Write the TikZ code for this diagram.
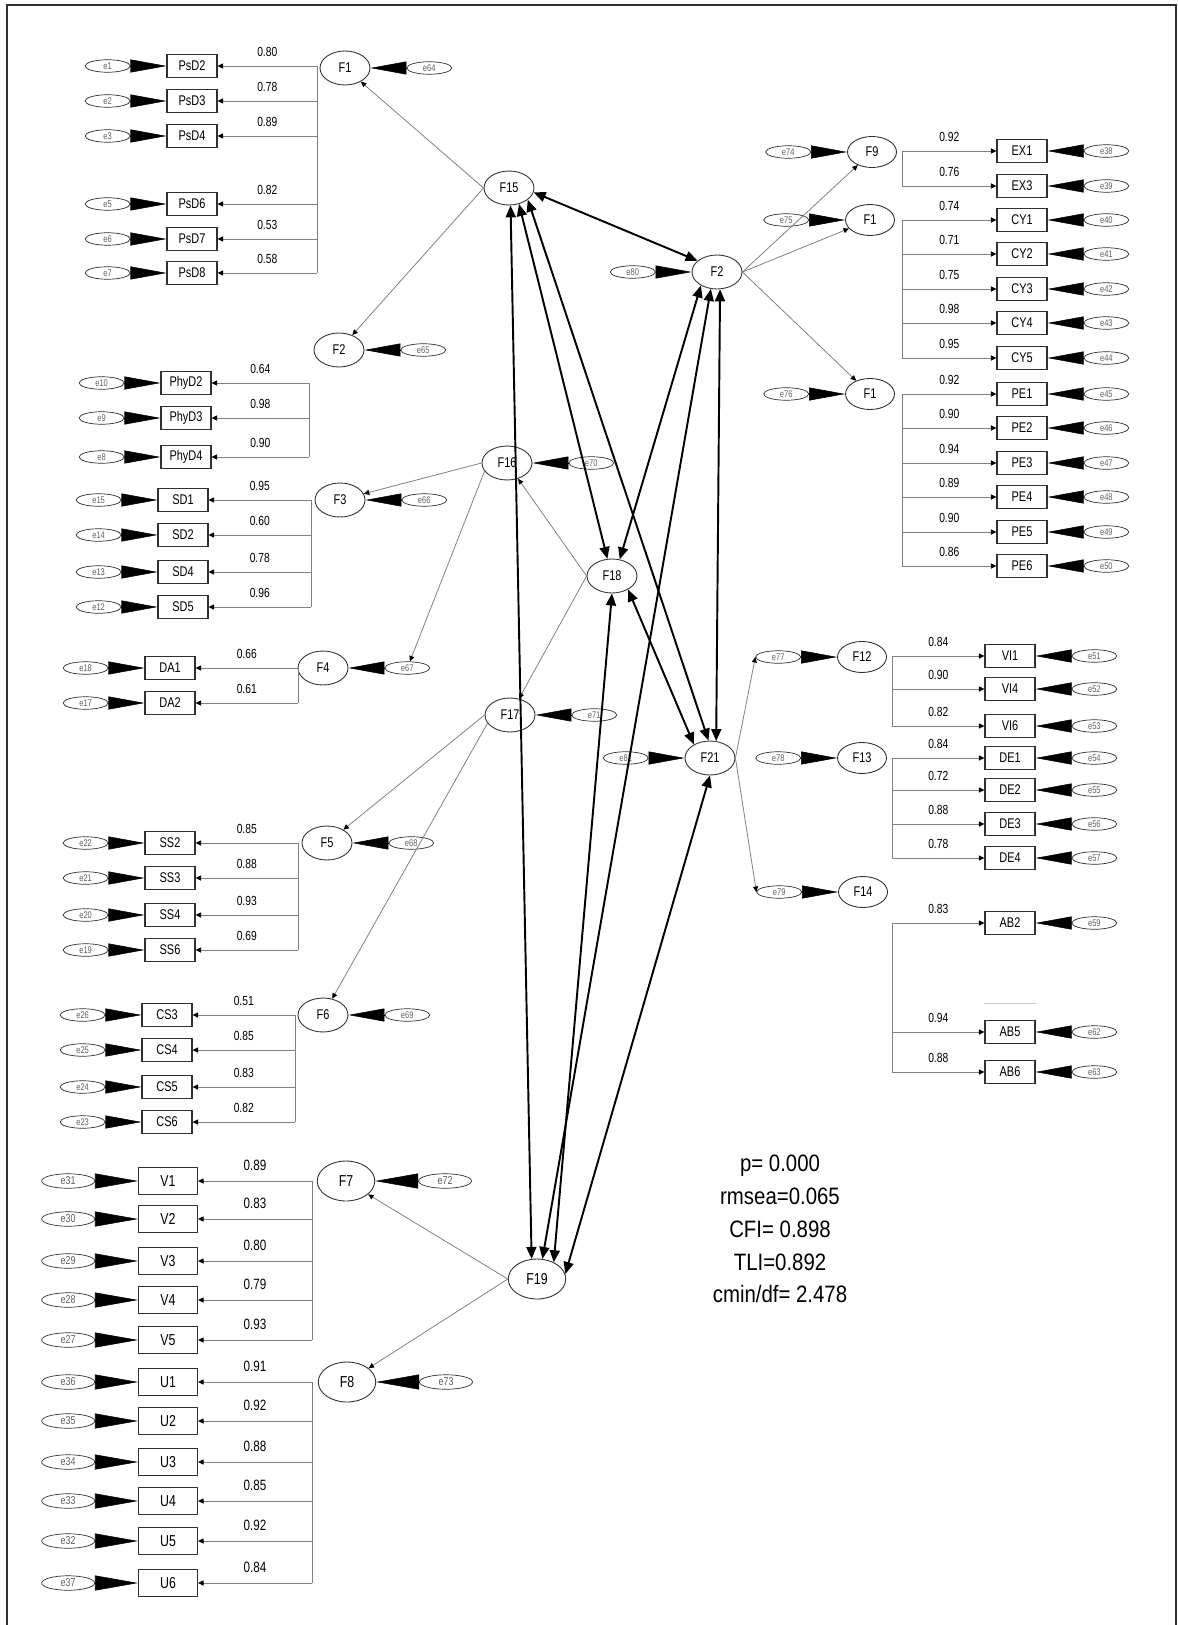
\documentclass[tikz,border=0pt]{standalone}
\usepackage{fontspec}
\setmainfont{Liberation Sans}[FakeStretch=0.78]
\newfontfamily\statfont{Liberation Sans}[FakeStretch=0.86]
\usetikzlibrary{arrows.meta,positioning,shapes.geometric}
\definecolor{linegray}{HTML}{808080}
\definecolor{boxline}{HTML}{303030}
\definecolor{errtext}{HTML}{606060}

\begin{document}
\begin{tikzpicture}[x=0.02cm, y=-0.02cm,
  fac/.style={ellipse, draw=boxline, line width=0.5pt, minimum width=1cm, minimum height=0.68cm, inner sep=0pt, font=\fontsize{8}{9}\selectfont},
  flatfac/.style={fac, minimum width=0.98cm, minimum height=0.62cm},
  bigfac/.style={fac, minimum width=1.15cm, minimum height=0.8cm, font=\fontsize{9}{10}\selectfont},
  obs/.style={rectangle, draw=boxline, line width=0.6pt, minimum width=1cm, minimum height=0.46cm, inner sep=0pt, font=\fontsize{8}{9}\selectfont},
  bigobs/.style={obs, minimum width=1.18cm, minimum height=0.54cm, font=\fontsize{9}{10}\selectfont},
  err/.style={ellipse, draw=boxline, line width=0.4pt, minimum width=0.9cm, minimum height=0.25cm, inner sep=0pt, text=errtext, font=\fontsize{5.5}{6}\selectfont},
  bigerr/.style={err, minimum width=1.06cm, minimum height=0.29cm, font=\fontsize{6.5}{7}\selectfont},
  wedge/.style={draw=black, line width=0.3pt, -{Triangle[length=0.72cm, width=0.26cm]}},
  bigwedge/.style={draw=black, line width=0.3pt, -{Triangle[length=0.86cm, width=0.3cm]}},
  bus/.style={draw=linegray, line width=0.5pt},
  load/.style={draw=linegray, line width=0.5pt, -{Triangle[length=1.1mm, width=1mm, color=black]}},
  reg/.style={draw=linegray, line width=0.45pt, -{Triangle[length=1.1mm, width=1mm, color=black]}},
  cov/.style={draw=black, line width=1.1pt, {Triangle[length=2.4mm, width=2mm]}-{Triangle[length=2.4mm, width=2mm]}},
  val/.style={above=4pt, inner sep=1pt, font=\fontsize{7.5}{8}\selectfont},
  bigval/.style={above=4.5pt, inner sep=1pt, font=\fontsize{8.5}{9}\selectfont}]
  \useasboundingbox (0,0) rectangle (1177,1625);
  \draw[boxline, line width=0.8pt] (7,1625) -- (7,5) -- (1176,5) -- (1176,1625);

  % higher-order factors
  \node[fac] (F15) at (509,188) {F15};
  \node[fac] (F16) at (507,463) {F16};
  \node[fac] (F17) at (510,715) {F17};
  \node[fac] (F18) at (612,576) {F18};
  \node[bigfac] (F19) at (537,1279) {F19};
  \node[fac] (F2) at (717,272) {F2};
  \node[fac] (F21) at (710,758) {F21};

  % first-order factors, left side
  \node[fac] (F1) at (345,68) {F1};
  \node[fac] (F2L) at (339,350) {F2};
  \node[fac] (F3) at (340,500) {F3};
  \node[fac] (F4) at (323,668) {F4};
  \node[fac] (F5) at (327,843) {F5};
  \node[fac] (F6) at (323,1015) {F6};
  \node[bigfac] (F7) at (346,1181) {F7};
  \node[bigfac] (F8) at (347,1382) {F8};

  % first-order factors, right side
  \node[flatfac] (F9) at (872,152) {F9};
  \node[flatfac] (F1m) at (870,220) {F1};
  \node[flatfac] (F1p) at (870,394) {F1};
  \node[flatfac] (F12) at (862,657) {F12};
  \node[flatfac] (F13) at (862,758) {F13};
  \node[flatfac] (F14) at (863,892) {F14};

  % disturbances
  \foreach \fc/\er in {F1/e64, F2L/e65, F3/e66, F4/e67, F5/e68, F6/e69, F16/e70, F17/e71}{
    \node[err, right=0.72cm of \fc] (\er) {\er};
    \draw[wedge] (\er) -- (\fc);
  }
  \foreach \fc/\er in {F7/e72, F8/e73}{
    \node[bigerr, right=0.86cm of \fc] (\er) {\er};
    \draw[bigwedge] (\er) -- (\fc);
  }
  \foreach \fc/\er in {F9/e74, F1m/e75, F1p/e76, F2/e80, F21/e81, F12/e77, F13/e78, F14/e79}{
    \node[err, left=0.72cm of \fc] (\er) {\er};
    \draw[wedge] (\er) -- (\fc);
  }

  % bus lines
  \coordinate (bA) at (317,0);
  \coordinate (bB) at (309,0);
  \coordinate (bC) at (311,0);
  \coordinate (bD) at (298,0);
  \coordinate (bE) at (295,0);
  \coordinate (bF) at (312,0);
  \coordinate (bR) at (902,0);
  \coordinate (bS) at (892,0);

  % left indicators
  \foreach \nm/\er/\xx/\yy/\ld/\bb in {PsD2/e1/192/66/0.80/bA, PsD3/e2/192/101/0.78/bA, PsD4/e3/192/136/0.89/bA,
      PsD6/e5/192/204/0.82/bA, PsD7/e6/192/239/0.53/bA, PsD8/e7/192/273/0.58/bA,
      PhyD2/e10/186/383/0.64/bB, PhyD3/e9/186/418/0.98/bB, PhyD4/e8/186/457/0.90/bB,
      SD1/e15/183/500/0.95/bC, SD2/e14/183/535/0.60/bC, SD4/e13/183/572/0.78/bC, SD5/e12/183/607/0.96/bC,
      DA1/e18/170/668/0.66/bD, DA2/e17/170/703/0.61/bD,
      SS2/e22/170/843/0.85/bD, SS3/e21/170/878/0.88/bD, SS4/e20/170/915/0.93/bD, SS6/e19/170/950/0.69/bD,
      CS3/e26/167/1015/0.51/bE, CS4/e25/167/1050/0.85/bE, CS5/e24/167/1087/0.83/bE, CS6/e23/167/1122/0.82/bE}{
    \node[obs] (\nm) at (\xx,\yy) {\nm};
    \node[err, left=0.72cm of \nm] (\er) {\er};
    \draw[wedge] (\er) -- (\nm);
    \draw[load] (\nm.east -| \bb) -- node[val] {\ld} (\nm.east);
  }
  \foreach \nm/\er/\yy/\ld in {V1/e31/1181/0.89, V2/e30/1219/0.83, V3/e29/1261/0.80, V4/e28/1300/0.79, V5/e27/1340/0.93,
      U1/e36/1382/0.91, U2/e35/1421/0.92, U3/e34/1462/0.88, U4/e33/1501/0.85, U5/e32/1541/0.92, U6/e37/1583/0.84}{
    \node[bigobs] (\nm) at (168,\yy) {\nm};
    \node[bigerr, left=0.86cm of \nm] (\er) {\er};
    \draw[bigwedge] (\er) -- (\nm);
    \draw[load] (\nm.east -| bF) -- node[bigval] {\ld} (\nm.east);
  }
  \draw[bus] (PsD2.east -| bA) -- (PsD8.east -| bA);
  \draw[bus] (PhyD2.east -| bB) -- (PhyD4.east -| bB);
  \draw[bus] (SD1.east -| bC) -- (SD5.east -| bC);
  \draw[bus] (DA1.east -| bD) -- (DA2.east -| bD);
  \draw[bus] (SS2.east -| bD) -- (SS6.east -| bD);
  \draw[bus] (CS3.east -| bE) -- (CS6.east -| bE);
  \draw[bus] (V1.east -| bF) -- (V5.east -| bF);
  \draw[bus] (U1.east -| bF) -- (U6.east -| bF);

  % right indicators
  \foreach \nm/\er/\xx/\yy/\ld/\bb in {EX1/e38/1022/151/0.92/bR, EX3/e39/1022/186/0.76/bR,
      CY1/e40/1022/220/0.74/bR, CY2/e41/1022/254/0.71/bR, CY3/e42/1022/289/0.75/bR, CY4/e43/1022/323/0.98/bR, CY5/e44/1022/358/0.95/bR,
      PE1/e45/1022/394/0.92/bR, PE2/e46/1022/428/0.90/bR, PE3/e47/1022/463/0.94/bR, PE4/e48/1022/497/0.89/bR, PE5/e49/1022/532/0.90/bR, PE6/e50/1022/566/0.86/bR,
      VI1/e51/1010/656/0.84/bS, VI4/e52/1010/689/0.90/bS, VI6/e53/1010/726/0.82/bS,
      DE1/e54/1010/758/0.84/bS, DE2/e55/1010/790/0.72/bS, DE3/e56/1010/824/0.88/bS, DE4/e57/1010/858/0.78/bS,
      AB2/e59/1010/923/0.83/bS, AB5/e62/1010/1032/0.94/bS, AB6/e63/1010/1072/0.88/bS}{
    \node[obs] (\nm) at (\xx,\yy) {\nm};
    \node[err, right=0.72cm of \nm] (\er) {\er};
    \draw[wedge] (\er) -- (\nm);
    \draw[load] (\nm.west -| \bb) -- node[val] {\ld} (\nm.west);
  }
  \draw[bus] (EX1.west -| bR) -- (EX3.west -| bR);
  \draw[bus] (CY1.west -| bR) -- (CY5.west -| bR);
  \draw[bus] (PE1.west -| bR) -- (PE6.west -| bR);
  \draw[bus] (VI1.west -| bS) -- (VI6.west -| bS);
  \draw[bus] (DE1.west -| bS) -- (DE4.west -| bS);
  \draw[bus] (AB2.west -| bS) -- (AB6.west -| bS);
  \draw[linegray!45, line width=0.4pt] ([yshift=0.33cm]AB5.north west) -- ([yshift=0.33cm]AB5.north east);

  % structural paths
  \draw[reg] (F15.west) -- (F1);
  \draw[reg] (F15.west) -- (F2L);
  \draw[reg] (F16.west) -- (F3);
  \draw[reg] (F16.200) -- (e67);
  \draw[reg] (F18.west) -- (F16);
  \draw[reg] (F18.west) -- (F17);
  \draw[reg] (F17.west) -- (F5);
  \draw[reg] (F17.200) -- (F6);
  \draw[reg] (F19.west) -- (F7);
  \draw[reg] (F19.west) -- (F8);
  \draw[reg] (F2.east) -- (F9);
  \draw[reg] (F2.east) -- (F1m);
  \draw[reg] (F2.east) -- (F1p);
  \draw[reg] (F21.east) -- (e77.west);
  \draw[reg] (F21.east) -- (e79.west);

  % covariances
  \draw[cov] (F15.-10) -- (F2.150);
  \draw[cov] (F15.-85) -- (F19.105);
  \draw[cov] (F15.-58) -- (F18.105);
  \draw[cov] (F15.-32) -- (F21.95);
  \draw[cov] (F2.-140) -- (F18.65);
  \draw[cov] (F2.-110) -- (F19.75);
  \draw[cov] (F2.-80) -- (F21.70);
  \draw[cov] (F18.-40) -- (F21.140);
  \draw[cov] (F18.-90) -- (F19.45);
  \draw[cov] (F21.-90) -- (F19.10);

  % fit indices
  \node[font=\statfont\fontsize{13.5}{18.7}\selectfont, align=center] (fit) at (780,1229)
    {p= 0.000\\rmsea=0.065\\CFI= 0.898\\TLI=0.892\\cmin/df= 2.478};
\end{tikzpicture}
\end{document}
